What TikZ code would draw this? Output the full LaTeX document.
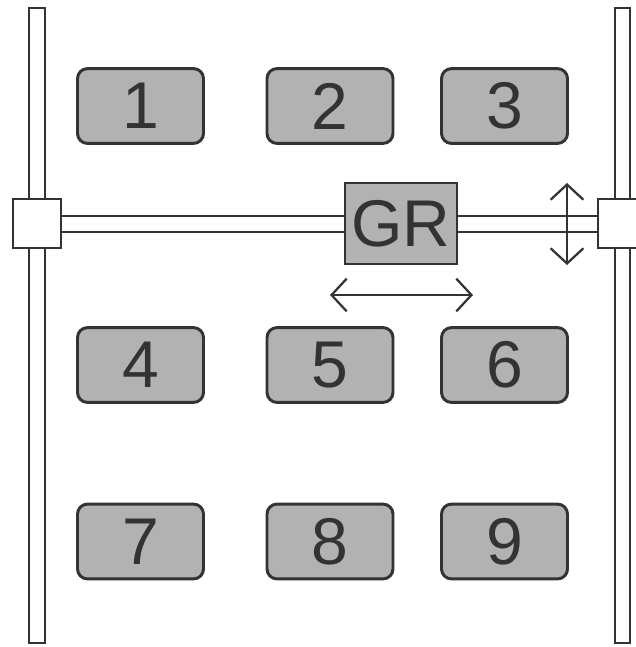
\documentclass[tikz,border=0pt]{standalone}
\usepackage{fontspec}
\setmainfont{Liberation Sans}
\usepackage{tikz}
\usetikzlibrary{arrows.meta, positioning, calc}
\definecolor{inkgray}{HTML}{333333}
\definecolor{dotgray}{HTML}{B2B2B2}

\begin{document}
\begin{tikzpicture}[
    x=0.025cm, y=-0.025cm,
    rail/.style={draw=inkgray, line width=1.8pt, fill=white},
    carriage/.style={rectangle, draw=inkgray, line width=1.9pt, fill=white, minimum width=1.2cm, minimum height=1.22cm, inner sep=0pt},
    slot/.style={rectangle, rounded corners=0.25cm, draw=inkgray, line width=2.1pt, fill=dotgray, minimum width=3.15cm, minimum height=1.87cm, inner sep=0pt, text=inkgray, font=\fontsize{47}{50}\selectfont},
    gripper/.style={rectangle, draw=inkgray, line width=1.9pt, fill=dotgray, minimum width=2.8cm, minimum height=2.02cm, inner sep=0pt, text=inkgray, font=\fontsize{47}{50}\selectfont},
    motion/.style={draw=inkgray, line width=1.6pt, {Straight Barb[length=0.38cm, width=0.82cm, line width=1.6pt]}-{Straight Barb[length=0.38cm, width=0.82cm, line width=1.6pt]}}
]
    \clip (0,0) rectangle (636,647);
    \useasboundingbox (0,0) rectangle (636,647);

    % Vertical rails and the cross beam
    \draw[rail] (29,8) rectangle (45,643);
    \draw[rail] (615,8) rectangle (630,643);
    \draw[rail] (37,216) rectangle (622,232);

    % Carriages on the rails
    \node[carriage] (leftcar) at (37,223.5) {};
    \node[carriage] (rightcar) at (622,223.5) {};

    % Gripper on the beam
    \node[gripper] (gr) at (401,223.5) {GR};

    % Storage slots 1--9
    \foreach \n/\x/\y in {1/140.5/106, 2/330/106, 3/504.5/106,
                          4/140.5/365, 5/330/365, 6/504.5/365,
                          7/140.5/541.5, 8/330/541.5, 9/504.5/541.5}
    {
        \node[slot] (slot\n) at (\x,\y) {\n};
    }

    % Directions of motion
    \coordinate (hleft) at (330,295);
    \coordinate (hright) at (473,295);
    \coordinate (vtop) at (567,183);
    \coordinate (vbottom) at (567,265);
    \draw[motion] (hleft) -- (hright);
    \draw[motion] (vtop) -- (vbottom);
\end{tikzpicture}
\end{document}
